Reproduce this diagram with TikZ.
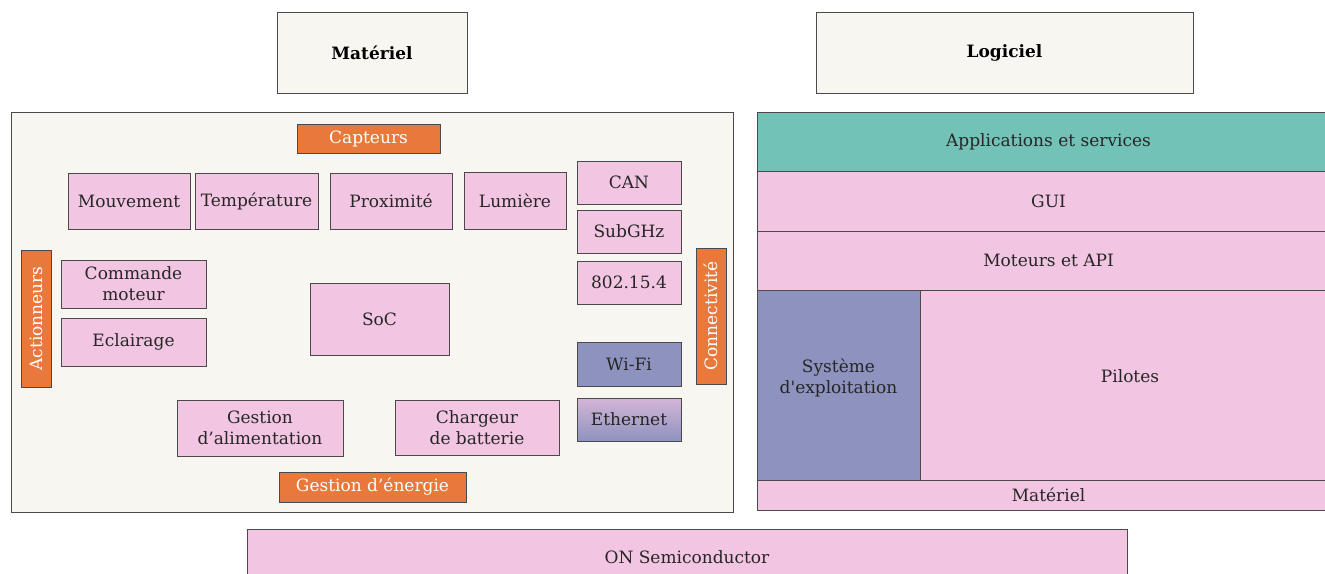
\documentclass[tikz,border=0pt]{standalone}
\usepackage{fontspec}
\setmainfont{DejaVu Serif}
\usetikzlibrary{positioning}
\definecolor{pinkFill}{HTML}{F2C6E2}
\definecolor{orangeTag}{HTML}{E8783C}
\definecolor{tealFill}{HTML}{72C2B8}
\definecolor{blueFill}{HTML}{8D92BF}
\definecolor{creamFill}{HTML}{F8F6F1}
\definecolor{frameLine}{HTML}{4A4A4A}

\tikzset{
  blk/.style={draw=frameLine,line width=.9pt,fill=pinkFill,inner sep=0pt,align=center,
    font=\fontsize{17}{21}\selectfont,text=black!85},
  tag/.style={draw=frameLine,line width=.9pt,fill=orangeTag,inner sep=0pt,
    font=\fontsize{17}{21}\selectfont,text=white},
  frame/.style={draw=frameLine,line width=1pt,fill=creamFill,inner sep=0pt},
  layer/.style={blk,minimum width=583pt},
}

\begin{document}
\begin{tikzpicture}[x=1pt,y=-1pt]
  \useasboundingbox (0,0) rectangle (1325,573);
  \fill[white] (0,0) rectangle (1325,573);

  % titres
  \node[frame,minimum width=190pt,minimum height=81pt,font=\fontsize{17}{21}\selectfont\bfseries] (hwTitle) at (372,52.5) {Matériel};
  \node[frame,minimum width=377pt,minimum height=81pt,font=\fontsize{17}{21}\selectfont\bfseries] (swTitle) at (1004.5,52.5) {Logiciel};

  % materiel
  \node[frame,minimum width=722pt,minimum height=400pt] (hwFrame) at (372,312) {};
  \node[tag,minimum width=143pt,minimum height=29pt] (capteurs) at (368.5,138.5) {Capteurs};
  \node[blk,minimum width=122pt,minimum height=56pt] (mouvement) at (129,201) {Mouvement};
  \node[blk,minimum width=123pt,minimum height=56pt] (temperature) at (256.5,201) {Température};
  \node[blk,minimum width=122pt,minimum height=56pt] (proximite) at (391,201) {Proximité};
  \node[blk,minimum width=102pt,minimum height=57pt] (lumiere) at (515,200.5) {Lumière};
  \node[blk,minimum width=104pt,minimum height=43pt] (can) at (629,182.5) {CAN};
  \node[blk,minimum width=104pt,minimum height=43pt] (subghz) at (629,231.5) {SubGHz};
  \node[blk,minimum width=104pt,minimum height=43pt] (zigbee) at (629,282.5) {802.15.4};
  \node[tag,minimum width=136pt,minimum height=30pt,rotate=90] (connect) at (711,316) {Connectivité};
  \node[tag,minimum width=137pt,minimum height=30pt,rotate=90] (actionneurs) at (36,318.5) {Actionneurs};
  \node[blk,minimum width=145pt,minimum height=48pt] (moteur) at (133.5,284) {Commande\\moteur};
  \node[blk,minimum width=145pt,minimum height=48pt] (eclairage) at (133.5,342) {Eclairage};
  \node[blk,minimum width=139pt,minimum height=72pt] (soc) at (379.5,319) {SoC};
  \node[blk,fill=blueFill,minimum width=104pt,minimum height=44pt] (wifi) at (629,364) {Wi-Fi};
  \node[blk,top color=pinkFill!70!blueFill,bottom color=blueFill,minimum width=104pt,minimum height=43pt] (ethernet) at (629,419.5) {Ethernet};
  \node[blk,minimum width=166pt,minimum height=56pt] (alim) at (260,428) {Gestion\\d’alimentation};
  \node[blk,minimum width=164pt,minimum height=55pt] (chargeur) at (477,427.5) {Chargeur\\de batterie};
  \node[tag,minimum width=187pt,minimum height=30pt] (energie) at (372.5,487) {Gestion d’énergie};

  % logiciel
  \node[layer,fill=tealFill,minimum height=59pt] (apps) at (1048.5,141.5) {Applications et services};
  \node[layer,minimum height=60pt] (gui) at (1048.5,201) {GUI};
  \node[layer,minimum height=59pt] (api) at (1048.5,260.5) {Moteurs et API};
  \node[blk,fill=blueFill,minimum width=163pt,minimum height=190pt,text depth=18pt] (os) at (838.5,385) {Système\\d\textquotesingle exploitation};
  \node[blk,minimum width=420pt,minimum height=190pt,text depth=18pt] (pilotes) at (1130,385) {Pilotes};
  \node[layer,minimum height=30pt] (swHw) at (1048.5,495) {Matériel};

  \node[blk,minimum width=880pt,minimum height=56pt] (onsemi) at (687,557) {ON Semiconductor};
\end{tikzpicture}
\end{document}
